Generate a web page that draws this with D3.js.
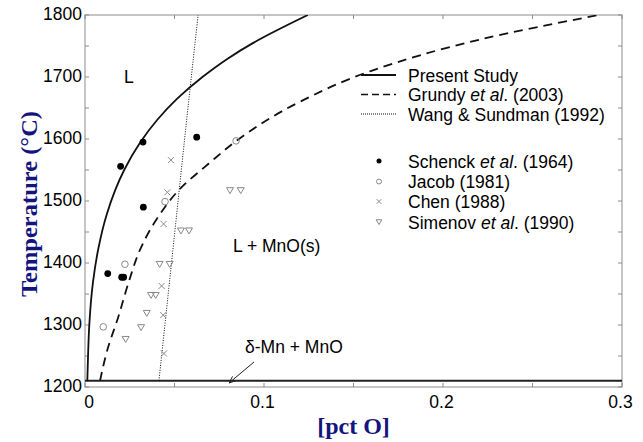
<!DOCTYPE html>
<html><head><meta charset="utf-8">
<script src="https://cdn.jsdelivr.net/npm/d3@7"></script>
<style>body{margin:0;background:#fff}svg{display:block}</style>
</head><body><svg id="c" width="643" height="442"></svg>
<script>
// ---- data ----
const xTickLabels = [0, 0.1, 0.2, 0.3];
const yTickLabels = [1200, 1300, 1400, 1500, 1600, 1700, 1800];
const eutecticT = 1210;
const presentStudy = [[0.0013,1210],[0.0018,1260],[0.0024,1300],[0.0045,1370],[0.0073,1421],[0.0123,1480],[0.0219,1550],[0.031,1595],[0.0404,1631],[0.0515,1665],[0.0656,1700],[0.0799,1730],[0.094,1755],[0.1245,1800]];
const grundy = [[0.0084,1210],[0.0125,1260],[0.0186,1313],[0.0245,1370],[0.0307,1421],[0.041,1475],[0.0532,1520],[0.069,1560],[0.086,1600],[0.12,1660],[0.16,1710],[0.22,1760],[0.287,1800]];
const wangSundman = [[0.0413,1210],[0.0491,1421],[0.0568,1631],[0.0632,1800]];
const schenck = [[0.0324,1595],[0.0624,1603],[0.0199,1556],[0.0326,1490],[0.0127,1383],[0.0205,1377],[0.0216,1377]];
const jacob = [[0.0844,1597],[0.0447,1499],[0.0223,1398],[0.0102,1297]];
const chen = [[0.048,1566],[0.046,1514],[0.0439,1463],[0.0428,1363],[0.0437,1316],[0.0441,1254]];
const simenov = [[0.081,1517],[0.087,1517],[0.0536,1452],[0.0581,1452],[0.0417,1398],[0.0473,1398],[0.0369,1348],[0.0395,1348],[0.0345,1319],[0.0313,1296],[0.0227,1277]];

const svg = d3.select('#c');
const m = {l:85, r:21, t:15, b:55};
const W = 643, H = 442;
const x = d3.scaleLinear().domain([0,0.3]).range([m.l, W-m.r]);
const y = d3.scaleLinear().domain([1200,1800]).range([H-m.b, m.t]);
const font = 'Arial, "Liberation Sans", sans-serif';
const serif = '"Times New Roman","Liberation Serif",serif';
const navy = '#14147e';
const gray = '#8c8c8c';
const fs = 17.5;

// ticks (inward)
const g = svg.append('g');
const xt = d3.range(0, 0.3001, 0.05);
const yt = d3.range(1200, 1800.1, 50);
xt.forEach(v => {
  g.append('line').attr('x1',x(v)).attr('x2',x(v)).attr('y1',y(1200)).attr('y2',y(1200)-4).attr('stroke',gray);
  g.append('line').attr('x1',x(v)).attr('x2',x(v)).attr('y1',y(1800)).attr('y2',y(1800)+4).attr('stroke',gray);
});
yt.forEach(v => {
  g.append('line').attr('x1',x(0)).attr('x2',x(0)+4).attr('y1',y(v)).attr('y2',y(v)).attr('stroke',gray);
  g.append('line').attr('x1',x(0.3)).attr('x2',x(0.3)-4).attr('y1',y(v)).attr('y2',y(v)).attr('stroke',gray);
});
svg.append('rect').attr('x',x(0)).attr('y',y(1800)).attr('width',x(0.3)-x(0)).attr('height',y(1200)-y(1800))
  .attr('fill','none').attr('stroke',gray).attr('stroke-width',1);

// tick labels
svg.selectAll('.xl').data(xTickLabels).enter().append('text')
  .attr('x',d=>x(d) + (d===0 ? 4 : -1.5)).attr('y',y(1200)+21).attr('text-anchor','middle')
  .attr('font-family',font).attr('font-size',fs).text(d=>d);
svg.selectAll('.yl').data(yTickLabels).enter().append('text')
  .attr('x',x(0)-3).attr('y',d=>y(d)+4.5).attr('text-anchor','end')
  .attr('font-family',font).attr('font-size',fs).text(d=>d);

// axis titles
svg.append('text').attr('transform',`translate(37,${(y(1200)+y(1800))/2+3}) rotate(-90)`)
  .attr('text-anchor','middle').attr('font-family',serif)
  .attr('font-weight','bold').attr('font-size',24).attr('fill',navy)
  .attr('textLength',186).attr('lengthAdjust','spacingAndGlyphs').text('Temperature (°C)');
svg.append('text').attr('x',(x(0)+x(0.3))/2).attr('y',434)
  .attr('text-anchor','middle').attr('font-family',serif)
  .attr('font-weight','bold').attr('font-size',24).attr('fill',navy).text('[pct O]');

// clip
svg.append('clipPath').attr('id','pa').append('rect').attr('x',x(0)).attr('y',y(1800)).attr('width',x(0.3)-x(0)).attr('height',y(1200)-y(1800));
const pa = svg.append('g').attr('clip-path','url(#pa)');

// eutectic line
pa.append('line').attr('x1',x(0)).attr('x2',x(0.3)).attr('y1',y(eutecticT)).attr('y2',y(eutecticT)).attr('stroke','#222').attr('stroke-width',2);

const line = d3.line().x(d=>x(d[0])).y(d=>y(d[1])).curve(d3.curveMonotoneY);
pa.append('path').datum(presentStudy).attr('d',line).attr('fill','none').attr('stroke','#111').attr('stroke-width',1.8);
pa.append('path').datum(grundy).attr('d',line).attr('fill','none').attr('stroke','#111').attr('stroke-width',1.8).attr('stroke-dasharray','9,6');
pa.append('path').datum(wangSundman).attr('d',line).attr('fill','none').attr('stroke','#111').attr('stroke-width',1).attr('stroke-dasharray','1,1.5');

// markers
const ptColor = '#888';
pa.selectAll('.s').data(schenck).enter().append('circle').attr('cx',d=>x(d[0])).attr('cy',d=>y(d[1])).attr('r',3.4).attr('fill','#000');
pa.selectAll('.j').data(jacob).enter().append('circle').attr('cx',d=>x(d[0])).attr('cy',d=>y(d[1])).attr('r',3.3).attr('fill','none').attr('stroke',ptColor).attr('stroke-width',1);
const cross = (sel, cx, cy, s) => sel.append('path').attr('d',`M${cx-s},${cy-s}L${cx+s},${cy+s}M${cx-s},${cy+s}L${cx+s},${cy-s}`).attr('stroke',ptColor).attr('stroke-width',1).attr('fill','none');
chen.forEach(d => cross(pa, x(d[0]), y(d[1]), 3));
const tri = (sel, cx, cy, s) => sel.append('path').attr('d',`M${cx-s},${cy-s*0.8}L${cx+s},${cy-s*0.8}L${cx},${cy+s*0.9}Z`).attr('stroke',ptColor).attr('stroke-width',1).attr('fill','none');
simenov.forEach(d => tri(pa, x(d[0]), y(d[1]), 3.5));

// region labels
svg.append('text').attr('x',124).attr('y',83).attr('font-family',font).attr('font-size',fs).text('L');
svg.append('text').attr('x',233).attr('y',252).attr('font-family',font).attr('font-size',fs).text('L + MnO(s)');
svg.append('text').attr('x',245).attr('y',353).attr('font-family',font).attr('font-size',fs).text('δ-Mn + MnO');
svg.append('defs').append('marker').attr('id','ah').attr('viewBox','0 0 10 10').attr('refX',10).attr('refY',5)
  .attr('markerWidth',7).attr('markerHeight',7).attr('orient','auto')
  .append('path').attr('d','M0,1L10,5L0,9').attr('fill','none').attr('stroke','#222').attr('stroke-width',1.3);
svg.append('line').attr('x1',254).attr('y1',362).attr('x2',229).attr('y2',383).attr('stroke','#222').attr('stroke-width',1).attr('marker-end','url(#ah)');

// legend
const lx0 = 361, lx1 = 396, tx = 408;
const lg = svg.append('g').attr('font-family',font).attr('font-size',fs);
const lineRows = [{y:75,dash:null,w:1.8,label:['Present Study']},{y:94.5,dash:'7,4',w:1.6,label:['Grundy ','et al','. (2003)']},{y:114,dash:'1,1',w:1,label:['Wang & Sundman (1992)']}];
const addLabel = (yy, parts) => {
  const t = lg.append('text').attr('x',tx).attr('y',yy+6.5);
  parts.forEach(p => { const ts = t.append('tspan').text(p); if (p==='et al') ts.attr('font-style','italic'); });
};
lineRows.forEach(r => {
  const l = lg.append('line').attr('x1',lx0).attr('x2',lx1).attr('y1',r.y).attr('y2',r.y).attr('stroke','#111').attr('stroke-width',r.w);
  if (r.dash) l.attr('stroke-dasharray',r.dash);
  addLabel(r.y, r.label);
});
const mx = 379;
lg.append('circle').attr('cx',mx).attr('cy',161).attr('r',2.5).attr('fill','#000'); addLabel(161, ['Schenck ','et al','. (1964)']);
lg.append('circle').attr('cx',mx).attr('cy',181.5).attr('r',2.5).attr('fill','none').attr('stroke',ptColor); addLabel(181.5, ['Jacob (1981)']);
cross(lg, mx, 201.5, 2.3); addLabel(201.5, ['Chen (1988)']);
tri(lg, mx, 222, 2.8); addLabel(222, ['Simenov ','et al','. (1990)']);
</script></body></html>
